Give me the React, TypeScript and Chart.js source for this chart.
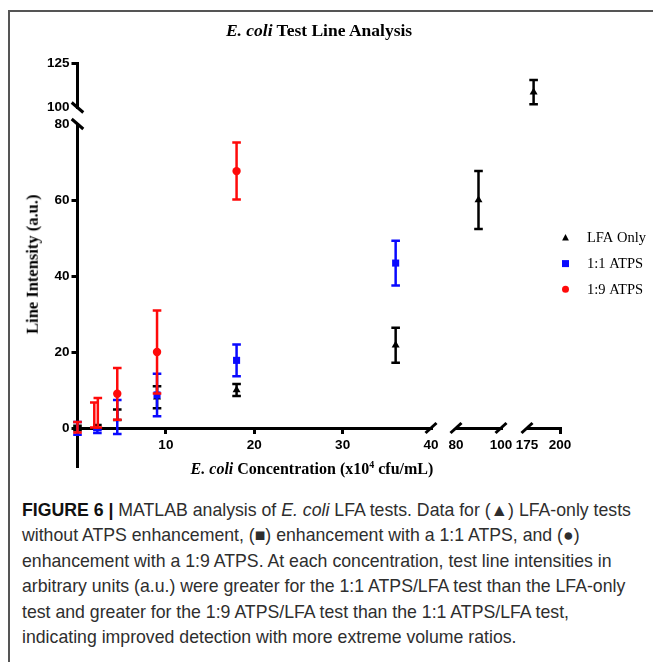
import React, { useEffect, useRef } from 'react';
import { Chart, registerables } from 'chart.js';

Chart.register(...registerables);

// ---------------- data (x in x10^4 cfu/mL, y in a.u.) ----------------
const concLow = [0, 2.25, 4.5, 9, 18, 36];
const concLowRed = [0, 1.9, 2.3, 4.5, 9, 18];
const concMid = [90];
const concHigh = [180];

const lfaLow = [0.0, 0.3, 3.5, 8.1, 10.0, 21.8];
const lfaLowErr = [0.6, 0.5, 1.4, 2.9, 1.6, 4.6];
const lfaMid = [60.0];
const lfaMidErr = [7.6];
const lfaHigh = [108.7];
const lfaHighErr = [6.9];

const atps11Low = [-0.1, -0.9, 2.9, 8.7, 17.8, 43.4];
const atps11LowErr = [1.7, 0.4, 4.5, 5.6, 4.2, 5.9];

const atps19Low = [0.2, 3.4, 4.0, 9.0, 20.0, 67.6];
const atps19LowErr = [1.4, 3.3, 3.9, 6.8, 10.9, 7.5];

const seriesNames = ['LFA Only', '1:1 ATPS', '1:9 ATPS'];

// axis segments (broken axes)
const xRange1 = [0, 40];
const xRange2 = [80, 100];
const xRange3 = [175, 200];
const yRangeLow = [-10, 80];
const yRangeHigh = [100, 125];

const xTicks1 = [10, 20, 30, 40];
const xTicks2 = [80, 100];
const xTicks3 = [175, 200];
const yTicksLow = [0, 20, 40, 60, 80];
const yTicksHigh = [100, 125];

// tick values that carry a break mark instead of a tick mark
const xBreaks1 = [40];
const xBreaks2 = [80, 100];
const xBreaks3 = [175];
const yBreaksLow = [80];
const yBreaksHigh = [100];

// ---------------- layout (pixels) ----------------
const CANVAS_W = 653;
const CANVAS_H = 490;
const AXIS_X = 77.5;
const AXIS_Y = 428;
const SCALE_BOXES: Record<string, { left: number; right: number; top: number; bottom: number }> = {
  yLow: { left: 0, right: AXIS_X, top: 124, bottom: 466 },
  yHigh: { left: 0, right: AXIS_X, top: 63.5, bottom: 107.5 },
  x1: { left: AXIS_X, right: 431, top: AXIS_Y, bottom: 470 },
  x2: { left: 456, right: 501, top: AXIS_Y, bottom: 470 },
  x3: { left: 527, right: 560, top: AXIS_Y, bottom: 470 },
};
const LEGEND = { markerX: 565.5, textX: 587, top: 238, step: 25.6 };

const COLORS = ['#000000', '#0a0aff', '#ff0a0a'];
const STYLES = ['triangle', 'rect', 'circle'];
const RADII = [4.6, 5, 4.2];

const tickFont = { family: "'Liberation Sans', Arial, sans-serif", size: 13.5, weight: 'bold' as const };

function makeAxis(range: number[], ticks: number[], breaks: number[], position: string) {
  return {
    type: 'linear',
    position,
    min: range[0],
    max: range[1],
    afterBuildTicks: (s: any) => {
      s.ticks = ticks.map((v) => ({ value: v }));
    },
    ticks: {
      font: tickFont,
      color: '#000',
      padding: position === 'left' ? 2 : 3,
      autoSkip: false,
      maxRotation: 0,
      minRotation: 0,
      callback: (v: any) => String(v),
    },
    grid: {
      drawOnChartArea: false,
      drawTicks: true,
      tickLength: 6,
      lineWidth: 3,
      tickWidth: 3,
      tickColor: (c: any) => (c.tick && breaks.includes(c.tick.value) ? 'rgba(0,0,0,0)' : '#000'),
    },
    border: { display: true, color: '#000', width: 3 },
  };
}

function makeSet(si: number, xs: number[], ys: number[], errs: number[], xAxisID: string, yAxisID: string, inLegend: boolean) {
  return {
    type: 'scatter',
    label: seriesNames[si],
    data: xs.map((x, i) => ({ x, y: ys[i] })),
    errors: errs,
    xAxisID,
    yAxisID,
    backgroundColor: COLORS[si],
    borderColor: COLORS[si],
    pointStyle: STYLES[si],
    pointRadius: RADII[si],
    pointHoverRadius: RADII[si],
    pointBorderWidth: 0,
    showLine: false,
    clip: false,
    order: 2 - si,
    inLegend,
  };
}

const placeScales = {
  id: 'placeScales',
  afterLayout(chart: any) {
    Object.keys(SCALE_BOXES).forEach((id) => {
      const s = chart.scales[id];
      const b = SCALE_BOXES[id];
      if (!s) return;
      s.left = b.left;
      s.right = b.right;
      s.top = b.top;
      s.bottom = b.bottom;
      s.width = b.right - b.left;
      s.height = b.bottom - b.top;
      s.configure();
    });
  },
};

const errorBars = {
  id: 'errorBars',
  beforeDatasetDraw(chart: any, args: any) {
    const ds = chart.data.datasets[args.index];
    const meta = args.meta;
    const xs = meta.xScale;
    const ys = meta.yScale;
    const ctx = chart.ctx;
    ctx.save();
    ctx.strokeStyle = ds.borderColor;
    ctx.lineWidth = 2.5;
    ds.data.forEach((p: any, i: number) => {
      const e = ds.errors[i];
      const x = xs.getPixelForValue(p.x);
      const yT = ys.getPixelForValue(p.y + e);
      const yB = ys.getPixelForValue(p.y - e);
      ctx.beginPath();
      ctx.moveTo(x, yT);
      ctx.lineTo(x, yB);
      ctx.moveTo(x - 4.3, yT);
      ctx.lineTo(x + 4.3, yT);
      ctx.moveTo(x - 4.3, yB);
      ctx.lineTo(x + 4.3, yB);
      ctx.stroke();
    });
    ctx.restore();
  },
};

const breakMarks = {
  id: 'breakMarks',
  afterDraw(chart: any) {
    const ctx = chart.ctx;
    ctx.save();
    ctx.strokeStyle = '#000';
    ctx.lineWidth = 3;
    const xSets: [string, number[]][] = [['x1', xBreaks1], ['x2', xBreaks2], ['x3', xBreaks3]];
    xSets.forEach(([id, vals]) => {
      const s = chart.scales[id];
      vals.forEach((v) => {
        const px = s.getPixelForValue(v);
        ctx.beginPath();
        ctx.moveTo(px - 5.5, AXIS_Y + 5);
        ctx.lineTo(px + 5.5, AXIS_Y - 5);
        ctx.stroke();
      });
    });
    const ySets: [string, number[]][] = [['yLow', yBreaksLow], ['yHigh', yBreaksHigh]];
    ySets.forEach(([id, vals]) => {
      const s = chart.scales[id];
      vals.forEach((v) => {
        const py = s.getPixelForValue(v);
        ctx.beginPath();
        ctx.moveTo(AXIS_X - 5.8, py - 5);
        ctx.lineTo(AXIS_X + 5.8, py + 5);
        ctx.stroke();
      });
    });
    ctx.restore();
  },
};

const customLegend = {
  id: 'customLegend',
  afterDraw(chart: any) {
    const ctx = chart.ctx;
    const items = chart.data.datasets.filter((d: any) => d.inLegend);
    ctx.save();
    ctx.font = "14.5px 'Liberation Serif', 'Times New Roman', serif";
    ctx.textBaseline = 'middle';
    ctx.textAlign = 'left';
    items.forEach((d: any, i: number) => {
      const cx = LEGEND.markerX;
      const cy = LEGEND.top + i * LEGEND.step;
      ctx.fillStyle = d.backgroundColor;
      ctx.beginPath();
      if (d.pointStyle === 'triangle') {
        ctx.moveTo(cx, cy - 4);
        ctx.lineTo(cx + 3.4, cy + 2.6);
        ctx.lineTo(cx - 3.4, cy + 2.6);
        ctx.closePath();
      } else if (d.pointStyle === 'rect') {
        ctx.rect(cx - 3.5, cy - 3.5, 7, 7);
      } else {
        ctx.arc(cx, cy, 3.5, 0, Math.PI * 2);
      }
      ctx.fill();
      ctx.fillStyle = '#000';
      ctx.fillText(d.label, LEGEND.textX, cy + 0.5);
    });
    ctx.restore();
  },
};

const serif = "'Liberation Serif', 'Times New Roman', serif";
const captionFont = "'Liberation Sans', Arial, sans-serif";

export default function App() {
  const ref = useRef<HTMLCanvasElement | null>(null);

  useEffect(() => {
    if (!ref.current) return;
    const datasets: any[] = [
      makeSet(0, concLow, lfaLow, lfaLowErr, 'x1', 'yLow', true),
      makeSet(0, concMid, lfaMid, lfaMidErr, 'x2', 'yLow', false),
      makeSet(0, concHigh, lfaHigh, lfaHighErr, 'x3', 'yHigh', false),
      makeSet(1, concLow, atps11Low, atps11LowErr, 'x1', 'yLow', true),
      makeSet(2, concLowRed, atps19Low, atps19LowErr, 'x1', 'yLow', true),
    ];
    const chart = new Chart(ref.current, {
      type: 'scatter',
      data: { datasets },
      options: {
        responsive: false,
        animation: false,
        devicePixelRatio: 1,
        events: [],
        layout: { padding: 0 },
        plugins: {
          legend: { display: false },
          tooltip: { enabled: false },
          title: { display: false },
        },
        scales: {
          x1: makeAxis(xRange1, xTicks1, xBreaks1, 'bottom'),
          x2: makeAxis(xRange2, xTicks2, xBreaks2, 'bottom'),
          x3: makeAxis(xRange3, xTicks3, xBreaks3, 'bottom'),
          yLow: makeAxis(yRangeLow, yTicksLow, yBreaksLow, 'left'),
          yHigh: makeAxis(yRangeHigh, yTicksHigh, yBreaksHigh, 'left'),
        } as any,
      } as any,
      plugins: [placeScales, errorBars, breakMarks, customLegend],
    } as any);
    return () => chart.destroy();
  }, []);

  return (
    <div style={{ position: 'absolute', left: 0, top: 0, width: 653, height: 662, background: '#fff', overflow: 'hidden' }}>
      <canvas ref={ref} width={CANVAS_W} height={CANVAS_H} style={{ position: 'absolute', left: 0, top: 0, width: CANVAS_W, height: CANVAS_H }} />
      <div style={{ position: 'absolute', left: 8, top: 10, width: 645, height: 0, borderTop: '2px solid #555' }} />
      <div style={{ position: 'absolute', left: 8, top: 10, width: 0, height: 652, borderLeft: '2px solid #555' }} />
      <div
        style={{
          position: 'absolute', left: 119, top: 22.3, width: 400, textAlign: 'center',
          fontFamily: serif, fontWeight: 'bold', fontSize: 17.5, lineHeight: '17.5px', color: '#000', whiteSpace: 'nowrap',
        }}
      >
        <i>E. coli</i> Test Line Analysis
      </div>
      <div
        style={{
          position: 'absolute', left: -66.6, top: 255.75, width: 200, height: 16.5, textAlign: 'center',
          fontFamily: serif, fontWeight: 'bold', fontSize: 16.5, lineHeight: '16.5px', color: '#000',
          transform: 'rotate(-90deg)', whiteSpace: 'nowrap',
        }}
      >
        Line Intensity (a.u.)
      </div>
      <div
        style={{
          position: 'absolute', left: 112, top: 460.6, width: 400, textAlign: 'center',
          fontFamily: serif, fontWeight: 'bold', fontSize: 16, lineHeight: '16px', color: '#000', whiteSpace: 'nowrap',
        }}
      >
        <i>E. coli</i> Concentration (x10<span style={{ fontSize: 10, position: 'relative', top: -6 }}>4</span> cfu/mL)
      </div>
      <div
        style={{
          position: 'absolute', left: 22, top: 498, fontFamily: captionFont, fontSize: 17.7, lineHeight: '25.4px',
          color: '#2e2e2e', whiteSpace: 'nowrap',
        }}
      >
        <div><b style={{ color: '#111' }}>FIGURE 6 |</b> MATLAB analysis of <i>E. coli</i> LFA tests. Data for (▲) LFA-only tests</div>
        <div>without ATPS enhancement, (■) enhancement with a 1:1 ATPS, and (●)</div>
        <div>enhancement with a 1:9 ATPS. At each concentration, test line intensities in</div>
        <div>arbitrary units (a.u.) were greater for the 1:1 ATPS/LFA test than the LFA-only</div>
        <div>test and greater for the 1:9 ATPS/LFA test than the 1:1 ATPS/LFA test,</div>
        <div>indicating improved detection with more extreme volume ratios.</div>
      </div>
    </div>
  );
}
